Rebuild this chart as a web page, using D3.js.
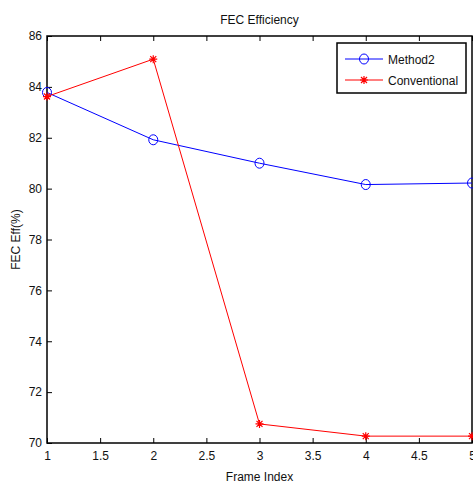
<!DOCTYPE html>
<html>
<head>
<meta charset="utf-8">
<script src="https://cdn.jsdelivr.net/npm/d3@7"></script>
<style>
  body { margin: 0; background: #fff; }
  svg { display: block; font-family: "Liberation Sans", Arial, sans-serif; }
</style>
</head>
<body>
<div class="graph-section"></div>
<script>
// chart data
var frames = [1, 2, 3, 4, 5];
var method2 = [83.78, 81.92, 81.0, 80.16, 80.22];
var conventional = [83.62, 85.09, 70.75, 70.27, 70.27];
var xTicks = [1, 1.5, 2, 2.5, 3, 3.5, 4, 4.5, 5];
var yTicks = [70, 72, 74, 76, 78, 80, 82, 84, 86];
var seriesNames = ["Method2", "Conventional"];

var screen = { width: 473, height: 484 };
var margins = { top: 36, bottom: 41, left: 47, right: 1 };

var graphWidth = screen.width - margins.left - margins.right;
var graphHeight = screen.height - margins.top - margins.bottom;

var xScale = d3.scaleLinear().domain([1, 5]).range([0, graphWidth]);
var yScale = d3.scaleLinear().domain([70, 86]).range([graphHeight, 0]);

var svg = d3.select(".graph-section")
  .append("svg")
  .attr("width", screen.width)
  .attr("height", screen.height);

var plot = svg.append("g")
  .attr("transform", "translate(" + margins.left + "," + margins.top + ")");

// box
plot.append("rect")
  .attr("x", 0).attr("y", 0)
  .attr("width", graphWidth).attr("height", graphHeight)
  .attr("fill", "white").attr("stroke", "black").attr("stroke-width", 1.5);

// axes (ticks point inward like matlab)
var xAxis = d3.axisBottom(xScale).tickValues(xTicks).tickSize(-5).tickPadding(8)
  .tickFormat(d3.format("~g"));
var yAxis = d3.axisLeft(yScale).tickValues(yTicks).tickSize(-5).tickPadding(5)
  .tickFormat(d3.format("d"));
var xTop = d3.axisTop(xScale).tickValues(xTicks).tickSize(-5).tickFormat("");

var gx = plot.append("g").attr("transform", "translate(0," + graphHeight + ")").call(xAxis);
var gy = plot.append("g").call(yAxis);
var gt = plot.append("g").call(xTop);

[gx, gy, gt].forEach(function(g) {
  g.select(".domain").remove();
  g.selectAll("text").attr("font-size", 12).attr("fill", "#111")
    .attr("font-family", "Liberation Sans, Arial, sans-serif");
  g.selectAll("line").attr("stroke", "black");
});

var line = d3.line()
  .x(function(d, i) { return xScale(frames[i]); })
  .y(function(d) { return yScale(d); });

// Method2 line
plot.append("path").datum(method2)
  .attr("d", line).attr("fill", "none").attr("stroke", "blue").attr("stroke-width", 1);
plot.selectAll(".m2").data(method2).enter().append("ellipse")
  .attr("cx", function(d, i) { return xScale(frames[i]); })
  .attr("cy", function(d) { return yScale(d); })
  .attr("rx", 4.5).attr("ry", 5)
  .attr("fill", "none").attr("stroke", "blue").attr("stroke-width", 1);

// Conventional line
plot.append("path").datum(conventional)
  .attr("d", line).attr("fill", "none").attr("stroke", "red").attr("stroke-width", 1);

var star = function(g, x, y) {
  var s = 4;
  g.append("path")
    .attr("d", "M" + (x - s) + "," + y + "H" + (x + s) +
               "M" + x + "," + (y - s) + "V" + (y + s) +
               "M" + (x - 3) + "," + (y - 3) + "L" + (x + 3) + "," + (y + 3) +
               "M" + (x - 3) + "," + (y + 3) + "L" + (x + 3) + "," + (y - 3))
    .attr("stroke", "red").attr("stroke-width", 1.2).attr("fill", "none");
};
conventional.forEach(function(d, i) { star(plot, xScale(frames[i]), yScale(d)); });

// legend
var legend = svg.append("g").attr("transform", "translate(337,43)");
legend.append("rect")
  .attr("x", 0).attr("y", 0).attr("width", 129).attr("height", 50)
  .attr("fill", "white").attr("stroke", "black").attr("stroke-width", 1.5);

var colors = ["blue", "red"];
seriesNames.forEach(function(name, i) {
  var y = 16 + i * 21;
  legend.append("line")
    .attr("x1", 8).attr("x2", 46).attr("y1", y).attr("y2", y)
    .attr("stroke", colors[i]).attr("stroke-width", 1);
  if (i == 0) {
    legend.append("ellipse").attr("cx", 27).attr("cy", y).attr("rx", 4.5).attr("ry", 5)
      .attr("fill", "none").attr("stroke", "blue");
  } else {
    star(legend, 27, y);
  }
  legend.append("text").attr("x", 51).attr("y", y + 4.5)
    .attr("font-size", 12).attr("fill", "#111").text(name);
});

// title and labels
svg.append("text").attr("x", margins.left + graphWidth / 2).attr("y", 24)
  .attr("text-anchor", "middle").attr("font-size", 12).attr("fill", "#111")
  .text("FEC Efficiency");
svg.append("text").attr("x", margins.left + graphWidth / 2).attr("y", 481)
  .attr("text-anchor", "middle").attr("font-size", 12).attr("fill", "#111")
  .text("Frame Index");
svg.append("text")
  .attr("transform", "translate(20," + (margins.top + graphHeight / 2) + ") rotate(-90)")
  .attr("text-anchor", "middle").attr("font-size", 12).attr("fill", "#111")
  .text("FEC Eff(%)");
</script>
</body>
</html>
